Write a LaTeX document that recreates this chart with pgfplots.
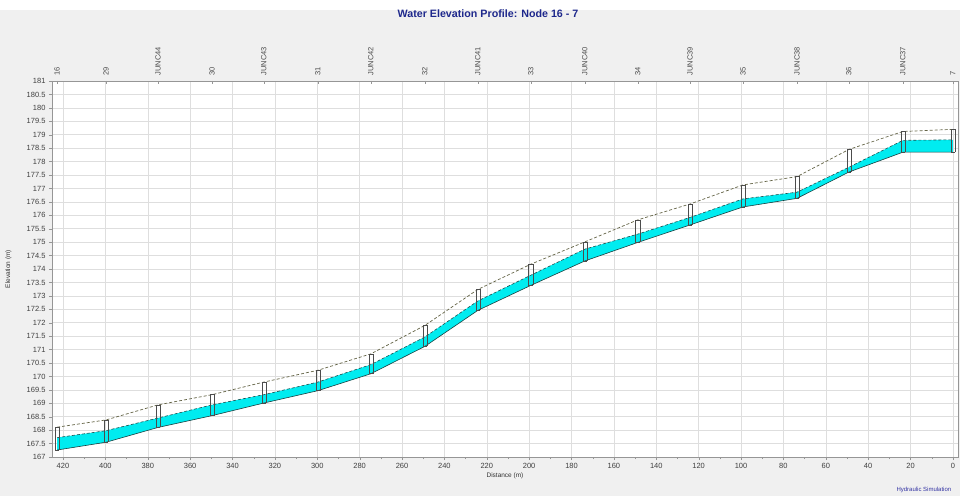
\documentclass[border=0pt]{standalone}
\usepackage{fontspec}
\setmainfont{Liberation Sans}
\usepackage{pgfplots}
\pgfplotsset{compat=1.18}
\usepackage{pgfplotstable}

\definecolor{bgc}{RGB}{240,240,240}
\definecolor{gridc}{RGB}{222,222,222}
\definecolor{groundc}{RGB}{100,100,70}
\definecolor{waterc}{RGB}{0,236,240}
\definecolor{edgec}{RGB}{30,80,80}
\definecolor{titlec}{RGB}{30,40,140}
\definecolor{framec}{RGB}{150,150,150}

% d = distance (m), G = ground, W = water surface, I = invert (m)
\pgfplotstableread{
d G W I
422.8 168.11 167.72 167.26
399.7 168.38 167.98 167.55
375.2 168.94 168.45 168.10
349.7 169.32 168.94 168.54
325.2 169.79 169.32 169.01
299.7 170.23 169.79 169.47
274.7 170.84 170.44 170.10
249.2 171.90 171.47 171.12
224.2 173.24 172.81 172.46
199.2 174.18 173.77 173.39
173.7 175.01 174.74 174.30
148.7 175.83 175.30 174.99
124.1 176.42 175.92 175.64
99.1 177.13 176.61 176.31
73.6 177.44 176.86 176.63
49.1 178.45 177.79 177.61
23.6 179.12 178.79 178.35
0.0 179.20 178.81 178.35
}\profile

\begin{document}
\begin{tikzpicture}
\useasboundingbox (0pt,0pt) rectangle (960pt,496pt);
\fill[bgc] (0pt,0pt) rectangle (960pt,486pt);
\fill[white] (0pt,486pt) rectangle (960pt,496pt);
\node[font=\bfseries\fontsize{10.7}{12}\selectfont, text=titlec] at (488pt,482pt) {Water Elevation Profile: Node 16 - 7};
\node[anchor=west, font=\fontsize{6}{7}\selectfont, text=blue!55!black!80] at (893pt,6pt) {Hydraulic Simulation};

\begin{axis}[at={(52pt,39pt)}, anchor=south west, scale only axis,
  width=906pt, height=376pt,
  x dir=reverse, xmin=-2.4, xmax=425.2, ymin=167, ymax=181,
  axis background/.style={fill=white},
  xtick={0,20,...,420}, ytick={167,167.5,...,181},
  minor x tick num=1,
  xtick pos=left, ytick pos=left,
  grid=major, major grid style={gridc, line width=0.5pt},
  axis line style={framec, line width=0.8pt},
  tick style={framec}, tick align=outside,
  major tick length=3pt, minor tick length=2pt,
  ticklabel style={font=\fontsize{7.5}{8}\selectfont, text=black!75},
  /pgf/number format/assume math mode=true,
  yticklabel style={/pgf/number format/fixed, /pgf/number format/precision=1},
  xticklabel style={/pgf/number format/fixed},
  xlabel={Distance (m)}, ylabel={Elevation (m)},
  label style={font=\fontsize{6.5}{8}\selectfont, text=black!80},
  xlabel style={at={(axis description cs:0.5,-0.05)}, anchor=center},
  ylabel style={at={(axis description cs:-0.048,0.5)}, anchor=center},
  unbounded coords=jump,
]
\addplot[fill=waterc, draw=none] coordinates {
(422.8,167.72) (399.7,167.98) (375.2,168.45) (349.7,168.94) (325.2,169.32) (299.7,169.79) (274.7,170.44) (249.2,171.47) (224.2,172.81) (199.2,173.77) (173.7,174.74) (148.7,175.30) (124.1,175.92) (99.1,176.61) (73.6,176.86) (49.1,177.79) (23.6,178.79) (0,178.81)
(0,178.35) (23.6,178.35) (49.1,177.61) (73.6,176.63) (99.1,176.31) (124.1,175.64) (148.7,174.99) (173.7,174.30) (199.2,173.39) (224.2,172.46) (249.2,171.12) (274.7,170.10) (299.7,169.47) (325.2,169.01) (349.7,168.54) (375.2,168.10) (399.7,167.55) (422.8,167.26)
} -- cycle;
\addplot[edgec, densely dashed, line width=0.6pt] table[x=d,y=W]{\profile};
\addplot[edgec!80!black, line width=0.6pt] table[x=d,y=I]{\profile};
\addplot[groundc, densely dashed, line width=0.7pt] table[x=d,y=G]{\profile};
% manholes
\addplot[black!70, line width=0.5pt] coordinates {
(421.8,167.26) (421.8,168.11) (423.8,168.11) (423.8,167.26) (421.8,167.26) (421.8,nan)
(398.7,167.55) (398.7,168.38) (400.7,168.38) (400.7,167.55) (398.7,167.55) (398.7,nan)
(374.2,168.10) (374.2,168.94) (376.2,168.94) (376.2,168.10) (374.2,168.10) (374.2,nan)
(348.7,168.54) (348.7,169.32) (350.7,169.32) (350.7,168.54) (348.7,168.54) (348.7,nan)
(324.2,169.01) (324.2,169.79) (326.2,169.79) (326.2,169.01) (324.2,169.01) (324.2,nan)
(298.7,169.47) (298.7,170.23) (300.7,170.23) (300.7,169.47) (298.7,169.47) (298.7,nan)
(273.7,170.10) (273.7,170.84) (275.7,170.84) (275.7,170.10) (273.7,170.10) (273.7,nan)
(248.2,171.12) (248.2,171.90) (250.2,171.90) (250.2,171.12) (248.2,171.12) (248.2,nan)
(223.2,172.46) (223.2,173.24) (225.2,173.24) (225.2,172.46) (223.2,172.46) (223.2,nan)
(198.2,173.39) (198.2,174.18) (200.2,174.18) (200.2,173.39) (198.2,173.39) (198.2,nan)
(172.7,174.30) (172.7,175.01) (174.7,175.01) (174.7,174.30) (172.7,174.30) (172.7,nan)
(147.7,174.99) (147.7,175.83) (149.7,175.83) (149.7,174.99) (147.7,174.99) (147.7,nan)
(123.1,175.64) (123.1,176.42) (125.1,176.42) (125.1,175.64) (123.1,175.64) (123.1,nan)
(98.1,176.31) (98.1,177.13) (100.1,177.13) (100.1,176.31) (98.1,176.31) (98.1,nan)
(72.6,176.63) (72.6,177.44) (74.6,177.44) (74.6,176.63) (72.6,176.63) (72.6,nan)
(48.1,177.61) (48.1,178.45) (50.1,178.45) (50.1,177.61) (48.1,177.61) (48.1,nan)
(22.6,178.35) (22.6,179.12) (24.6,179.12) (24.6,178.35) (22.6,178.35) (22.6,nan)
(-1.0,178.35) (-1.0,179.20) (1.0,179.20) (1.0,178.35) (-1.0,178.35)
};
\end{axis}

\begin{axis}[at={(52pt,39pt)}, anchor=south west, scale only axis,
  width=906pt, height=376pt,
  x dir=reverse, xmin=-2.4, xmax=425.2, ymin=167, ymax=181,
  axis x line*=top, axis y line=none,
  xtick={422.8,399.7,375.2,349.7,325.2,299.7,274.7,249.2,224.2,199.2,173.7,148.7,124.1,99.1,73.6,49.1,23.6,0},
  xticklabels={16,29,JUNC44,30,JUNC43,31,JUNC42,32,JUNC41,33,JUNC40,34,JUNC39,35,JUNC38,36,JUNC37,7},
  xticklabel style={rotate=90, anchor=west, font=\fontsize{7.5}{8}\selectfont, text=black!70, xshift=2pt},
  tick align=inside, major tick length=3pt,
  axis line style={framec, line width=0.8pt}, tick style={framec},
]
\addplot[draw=none] coordinates {(0,170)};
\end{axis}
\end{tikzpicture}
\end{document}
